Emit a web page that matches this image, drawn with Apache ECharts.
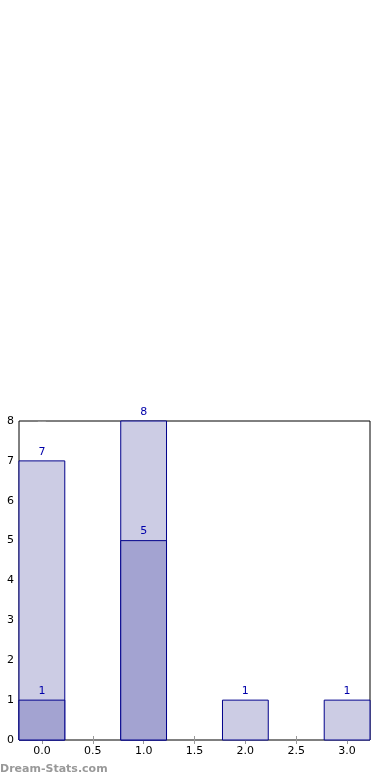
<!DOCTYPE html>
<html><head><meta charset="utf-8">
<script src="https://cdn.jsdelivr.net/npm/echarts@6/dist/echarts.min.js"></script>
<style>html,body{margin:0;padding:0;background:#fff}#c{width:390px;height:780px}</style>
</head><body><div id="c"></div>
<script>
const positions = [0, 1, 2, 3];
const totalValues = [7, 8, 1, 1];
const subsetValues = [1, 5, 0, 0];
const xTicks = [0, 0.5, 1, 1.5, 2, 2.5, 3];
const yTicks = [0, 1, 2, 3, 4, 5, 6, 7, 8];
const barWidth = 0.45;

const chart = echarts.init(document.getElementById('c'));
function makeRender(fill) {
  return function (params, api) {
    const x = api.value(0), y = api.value(1);
    if (!y) return null;
    const p0 = api.coord([x - barWidth / 2, y]);
    const p1 = api.coord([x + barWidth / 2, 0]);
    return {
      type: 'rect',
      shape: { x: p0[0], y: p0[1], width: p1[0] - p0[0], height: p1[1] - p0[1] },
      style: { fill: fill, stroke: '#00008b', lineWidth: 1 },
      textContent: { style: { text: String(y), fill: '#0000aa', font: '11px "DejaVu Sans"' } },
      textConfig: { position: 'top', distance: 3 }
    };
  };
}
const axisFont = { fontFamily: 'DejaVu Sans', fontSize: 11, color: '#000' };
chart.setOption({
  animation: false,
  grid: { left: 19, right: 20, top: 421, bottom: 40, show: true, borderColor: '#000', borderWidth: 1, backgroundColor: 'transparent' },
  xAxis: [{
    type: 'value', min: -0.225, max: 3.225, position: 'bottom',
    axisLine: { show: false }, splitLine: { show: false },
    axisTick: { inside: true, length: 4, lineStyle: { color: '#999' }, customValues: xTicks },
    axisLabel: Object.assign({ margin: 6, customValues: xTicks, formatter: v => v.toFixed(1) }, axisFont)
  }, {
    type: 'value', min: -0.225, max: 3.225, position: 'top',
    axisLine: { show: false }, splitLine: { show: false },
    axisTick: { inside: true, length: 4, lineStyle: { color: '#999' }, customValues: xTicks },
    axisLabel: { show: false }
  }],
  yAxis: [{
    type: 'value', min: 0, max: 8, interval: 1, position: 'left',
    axisLine: { show: false }, splitLine: { show: false },
    axisTick: { show: true, inside: true, length: 4, lineStyle: { color: '#999' } },
    axisLabel: Object.assign({ margin: 5 }, axisFont)
  }, {
    type: 'value', min: 0, max: 8, interval: 1, position: 'right',
    axisLine: { show: false }, splitLine: { show: false },
    axisTick: { show: true, inside: true, length: 4, lineStyle: { color: '#999' } },
    axisLabel: { show: false }
  }],
  series: [{
    type: 'custom', xAxisIndex: 0, yAxisIndex: 0, clip: false,
    renderItem: makeRender('#ccccе4'.replace('е','e')),
    data: positions.map((p, i) => [p, totalValues[i]])
  }, {
    type: 'custom', xAxisIndex: 0, yAxisIndex: 0, clip: false,
    renderItem: makeRender('#a3a3d1'),
    data: positions.map((p, i) => [p, subsetValues[i]])
  }],
  graphic: [{
    type: 'text', left: 0, top: 764,
    style: { text: 'Dream-Stats.com', fill: '#999', font: 'bold 11px "DejaVu Sans"' }
  }]
});
</script></body></html>
